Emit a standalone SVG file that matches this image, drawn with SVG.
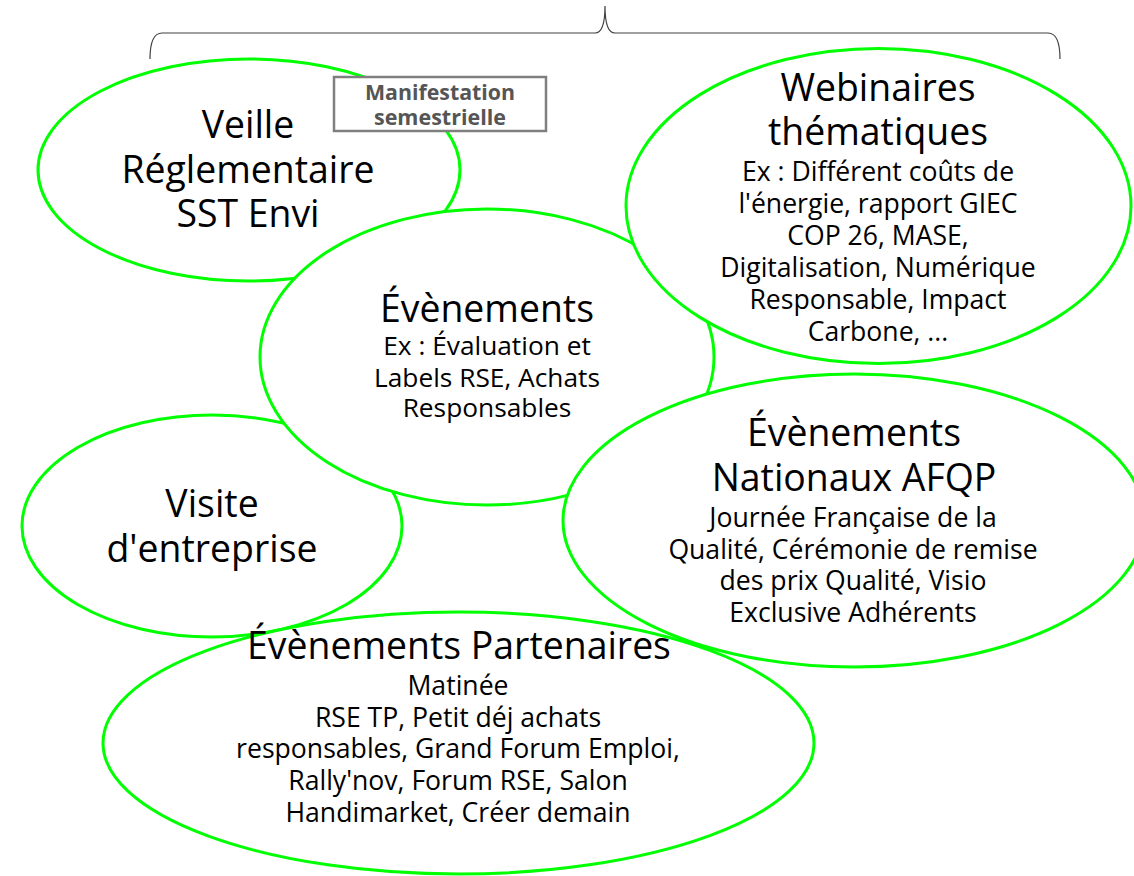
<svg xmlns="http://www.w3.org/2000/svg" width="1134" height="876" viewBox="0 0 1134 876">
<style>
.ell{fill:#ffffff;stroke:#00ff00;stroke-width:3}
.t{font-family:"Open Sans","Noto Sans","DejaVu Sans",sans-serif;fill:#000000;text-anchor:middle}
.big{font-size:37.4px}
.sm{font-size:26.6px}
.box{fill:#ffffff;stroke:#7f7f7f;stroke-width:2.5}
.bt{font-family:"Open Sans","Noto Sans",sans-serif;font-weight:bold;font-size:22px;fill:#555555;text-anchor:middle}
.brace{fill:none;stroke:#404040;stroke-width:1.2}
</style>
<rect width="1134" height="876" fill="#ffffff"/>
<g id="connectors">
<path class="brace" d="M150,59 Q150,33 162,33 L595,33 Q605,33 605,6 Q605,33 615,33 L1048,33 Q1060,33 1060,59"/>
</g>
<g id="veille">
<ellipse class="ell" cx="249" cy="170" rx="211" ry="111"/>
<text class="t big" x="248" y="138">Veille</text>
<text class="t big" x="248" y="183">Réglementaire</text>
<text class="t big" x="248" y="227">SST Envi</text>
</g>
<g id="manifestation">
<rect class="box" x="334" y="77" width="212" height="54"/>
<text class="bt" x="440" y="100" textLength="150" lengthAdjust="spacingAndGlyphs">Manifestation</text>
<text class="bt" x="440" y="125" textLength="132" lengthAdjust="spacingAndGlyphs">semestrielle</text>
</g>
<g id="visite">
<ellipse class="ell" cx="212" cy="526" rx="190" ry="111"/>
<text class="t big" x="212" y="517">Visite</text>
<text class="t big" x="212" y="562">d'entreprise</text>
</g>
<g id="evenements">
<ellipse class="ell" cx="487" cy="357" rx="227" ry="148"/>
<text class="t big" x="487" y="322">Évènements</text>
<text class="t sm" x="487" y="355" style="font-size:26.3px">Ex : Évaluation et</text>
<text class="t sm" x="487" y="387" style="font-size:26.3px">Labels RSE, Achats</text>
<text class="t sm" x="487" y="417" style="font-size:26.3px">Responsables</text>
</g>
<g id="webinaires">
<ellipse class="ell" cx="878.5" cy="206" rx="252.5" ry="157.5"/>
<text class="t big" x="878" y="101">Webinaires</text>
<text class="t big" x="878" y="145">thématiques</text>
<text class="t sm" x="878" y="181">Ex : Différent coûts de</text>
<text class="t sm" x="878" y="213">l'énergie, rapport GIEC</text>
<text class="t sm" x="878" y="245">COP 26, MASE,</text>
<text class="t sm" x="878" y="277">Digitalisation, Numérique</text>
<text class="t sm" x="878" y="309">Responsable, Impact</text>
<text class="t sm" x="878" y="341">Carbone, ...</text>
</g>
<g id="partenaires">
<ellipse class="ell" cx="458.5" cy="743" rx="355.5" ry="131"/>
<text class="t big" x="459" y="659">Évènements Partenaires</text>
<text class="t sm" x="458" y="695">Matinée</text>
<text class="t sm" x="458" y="727">RSE TP, Petit déj achats</text>
<text class="t sm" x="458" y="758">responsables, Grand Forum Emploi,</text>
<text class="t sm" x="458" y="790">Rally'nov, Forum RSE, Salon</text>
<text class="t sm" x="458" y="822">Handimarket, Créer demain</text>
</g>
<g id="afqp">
<ellipse class="ell" cx="854" cy="520.5" rx="291" ry="146.5"/>
<text class="t big" x="854" y="446">Évènements</text>
<text class="t big" x="854" y="491">Nationaux AFQP</text>
<text class="t sm" x="853" y="527">Journée Française de la</text>
<text class="t sm" x="853" y="559">Qualité, Cérémonie de remise</text>
<text class="t sm" x="853" y="590">des prix Qualité, Visio</text>
<text class="t sm" x="853" y="622">Exclusive Adhérents</text>
</g>
</svg>
